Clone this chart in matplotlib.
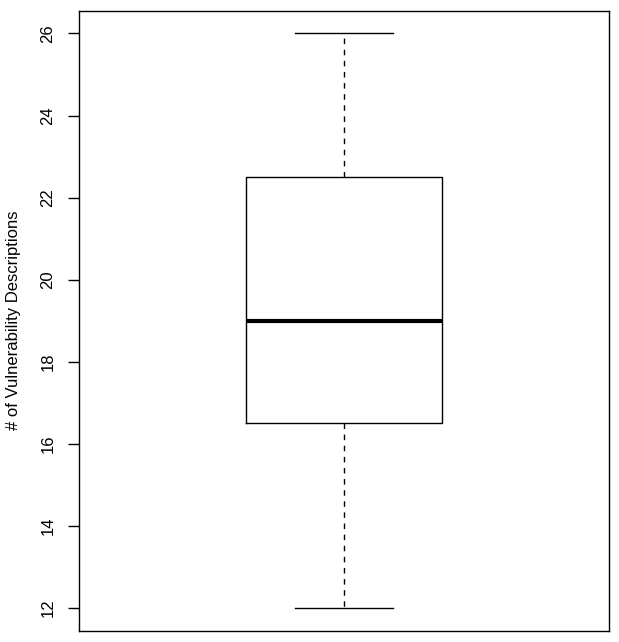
import matplotlib
matplotlib.use("Agg")
import matplotlib.pyplot as plt

# five-number summary
stat_min = 12.0
stat_q1 = 16.5
stat_med = 19.0
stat_q3 = 22.5
stat_max = 26.0
yticks = [12, 14, 16, 18, 20, 22, 24, 26]

plt.rcParams["font.family"] = ["Liberation Sans", "DejaVu Sans"]

fig = plt.figure(figsize=(6.19, 6.42), dpi=100)
ax = fig.add_axes([79 / 619, 11 / 642, 530 / 619, 620.5 / 642])

stats = [dict(whislo=stat_min, q1=stat_q1, med=stat_med, q3=stat_q3,
              whishi=stat_max, fliers=[])]
ax.bxp(stats, positions=[1], widths=0.4, showfliers=False, patch_artist=False,
       boxprops=dict(color="black", lw=1.0),
       medianprops=dict(color="black", lw=3.0, solid_capstyle="butt"),
       whiskerprops=dict(color="black", lw=1.0, ls=(0, (4, 4))),
       capprops=dict(color="black", lw=1.0), capwidths=0.2)

rng = stat_max - stat_min
ax.set_ylim(stat_min - 0.04 * rng, stat_max + 0.04 * rng)
ax.set_xlim(0.46, 1.54)
ax.set_xticks([])
ax.set_yticks(yticks)
ax.set_yticklabels([str(t) for t in yticks], rotation=90, va="center", fontsize=12)
ax.tick_params(axis="y", length=8, width=1, pad=9)
ax.set_ylabel("# of Vulnerability Descriptions", fontsize=12, labelpad=14)
for s in ax.spines.values():
    s.set_linewidth(1.0)

fig.savefig("out.png", dpi=100, facecolor="white")
